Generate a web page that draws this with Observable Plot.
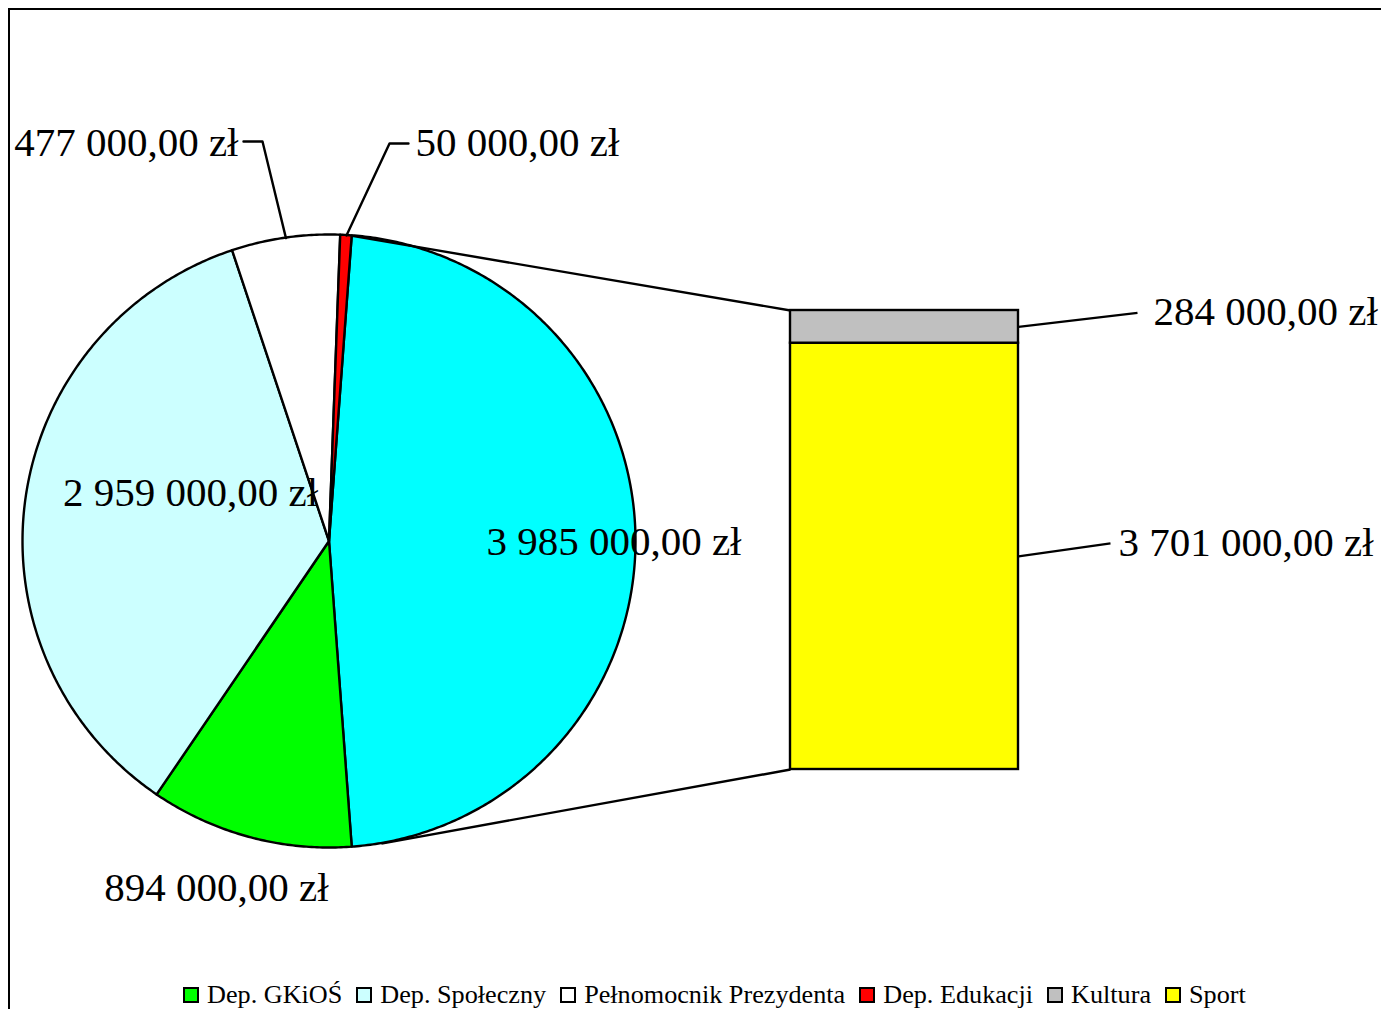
<!DOCTYPE html>
<html><head><meta charset="utf-8">
<script src="https://cdn.jsdelivr.net/npm/d3@7"></script>
<script src="https://cdn.jsdelivr.net/npm/@observablehq/plot@0.6"></script>
<style>
html,body{margin:0;padding:0;background:#fff;}
#wrap{position:relative;width:1381px;height:1009px;overflow:hidden;font-family:"Liberation Serif","Times New Roman",serif;}
#frame{position:absolute;left:8px;top:8px;width:1500px;height:1100px;border:2px solid #000;box-sizing:border-box;}
.layer{position:absolute;left:0;top:0;}
#legend{position:absolute;left:183px;top:982px;display:flex;align-items:center;font-size:26.2px;line-height:26px;white-space:nowrap;}
.item{display:flex;align-items:center;margin-right:14px;}
.sw{width:12px;height:12px;border:2px solid #000;margin-right:8px;}
</style></head>
<body><div id="wrap"><div id="frame"></div></div>
<script>
// ---- data ----
const pieCategories = ["Dep. GKiOŚ", "Dep. Społeczny", "Pełnomocnik Prezydenta", "Dep. Edukacji", "Pozostałe"];
const pieValues = [894000, 2959000, 477000, 50000, 3985000];
const barCategories = ["Sport", "Kultura"];
const barValues = [3701000, 284000];
const legendCategories = ["Dep. GKiOŚ", "Dep. Społeczny", "Pełnomocnik Prezydenta", "Dep. Edukacji", "Kultura", "Sport"];

// ---- styles ----
const colorDomain = ["Dep. GKiOŚ", "Dep. Społeczny", "Pełnomocnik Prezydenta", "Dep. Edukacji", "Pozostałe", "Kultura", "Sport"];
const colorRange = ["#00ff00", "#ccffff", "#ffffff", "#ff0000", "#00ffff", "#c0c0c0", "#ffff00"];
const FONT = "Liberation Serif, Times New Roman, serif";
const W = 1381, H = 975;
const SW = 2.4;

const loc = d3.formatLocale({decimal: ",", thousands: " ", grouping: [3], currency: ["", " zł"]});
const fmt = loc.format("$,.2f");

// ---- pie geometry from values ----
const total = d3.sum(pieValues);
const otherIdx = pieCategories.indexOf("Pozostałe");
const drawOrder = [otherIdx, ...pieCategories.map((_, i) => i).filter(i => i !== otherIdx)];
const otherSpan = pieValues[otherIdx] / total * 360;
let a = 90 - otherSpan / 2;
const slices = [];
for (const i of drawOrder) {
  const span = pieValues[i] / total * 360;
  slices.push({name: pieCategories[i], value: pieValues[i], start: a, end: a + span, mid: a + span / 2});
  a += span;
}
const rad = d => d * Math.PI / 180;
const arcPts = [];
for (const s of slices) {
  const n = Math.max(2, Math.ceil((s.end - s.start) / 0.5) + 1);
  for (let k = 0; k < n; k++) {
    const ang = rad(s.start + (s.end - s.start) * k / (n - 1));
    arcPts.push({name: s.name, x: Math.sin(ang), y: Math.cos(ang)});
  }
}
const sliceOf = name => slices.find(s => s.name === name);

// layout of pie labels (pie units; radius = 1)
const pieLabelLayout = {
  "Pozostałe": {x: 0.928, y: 0.0, anchor: "middle"},
  "Dep. Społeczny": {x: -0.4535, y: 0.158, anchor: "middle"},
  "Dep. GKiOŚ": {x: -0.3687, y: -1.13, anchor: "middle"},
  "Pełnomocnik Prezydenta": {x: -0.2969, y: 1.302, anchor: "end", elbow: [-0.2186, 1.305], end: [-0.2806, 1.305]},
  "Dep. Edukacji": {x: 0.2806, y: 1.299, anchor: "start", elbow: [0.1958, 1.2985], end: [0.2577, 1.2985]}
};
const pieLabels = slices.map(s => ({...pieLabelLayout[s.name], label: fmt(s.value)}));
const leaderPts = [];
for (const s of slices) {
  const L = pieLabelLayout[s.name];
  if (!L.elbow) continue;
  leaderPts.push({name: s.name, x: Math.sin(rad(s.mid)), y: Math.cos(rad(s.mid))});
  leaderPts.push({name: s.name, x: L.elbow[0], y: L.elbow[1]});
  leaderPts.push({name: s.name, x: L.end[0], y: L.end[1]});
}

const pieXOpts = {domain: [-1, 1], range: [22.5, 635.5]};
const pieYOpts = {domain: [-1, 1], range: [847.5, 234.5]};
const pieX = Plot.scale({x: pieXOpts});
const pieY = Plot.scale({y: pieYOpts});

const labelMarks = ["start", "middle", "end"].map(anc =>
  Plot.text(pieLabels.filter(d => d.anchor === anc), {x: "x", y: "y", text: "label", textAnchor: anc,
    fontSize: 41, fontFamily: FONT, fill: "#000"}));

const piePlot = Plot.plot({
  width: W, height: H, margin: 0,
  x: {...pieXOpts, axis: null},
  y: {...pieYOpts, axis: null},
  color: {domain: colorDomain, range: colorRange},
  style: {background: "transparent", fontFamily: FONT},
  marks: [
    Plot.area(arcPts, {x1: d => 0, y1: d => 0, x2: "x", y2: "y", z: "name", fill: "name",
      stroke: "#000", strokeWidth: SW, strokeLinejoin: "round"}),
    Plot.line(leaderPts, {x: "x", y: "y", z: "name", stroke: "#000", strokeWidth: SW}),
    ...labelMarks
  ]
});

// ---- bar ----
const barTotal = d3.sum(barValues);
const cum = d3.cumsum(barValues);
const barRows = barCategories.map((c, i) => ({name: c, value: barValues[i], y1: cum[i] - barValues[i], y2: cum[i], mid: cum[i] - barValues[i] / 2}));
const barXOpts = {domain: [0, 1], range: [790, 1018]};
const barYOpts = {domain: [0, barTotal], range: [769, 310]};
const barX = Plot.scale({x: barXOpts});
const barY = Plot.scale({y: barYOpts});
const yUp = (v, px) => barY.invert(barY.apply(v) - px);

const barLabelLayout = {
  "Kultura": {lineEnd: 1.522, textX: 1.592, up: 14},
  "Sport": {lineEnd: 1.4035, textX: 1.4386, up: 13}
};
const barLabels = barRows.map(r => {
  const L = barLabelLayout[r.name];
  return {x1: 1, y1: r.mid, x2: L.lineEnd, y2: yUp(r.mid, L.up), tx: L.textX, ty: yUp(r.mid, L.up + 0.5), label: fmt(r.value)};
});

// connectors pie -> bar
const other = sliceOf("Pozostałe");
const toBar = ang => ({x: barX.invert(pieX.apply(Math.sin(rad(ang)))), y: barY.invert(pieY.apply(Math.cos(rad(ang))))});
const pTop = toBar(other.start), pBot = toBar(other.end - 5.5);
const connectors = [
  {x1: pTop.x, y1: pTop.y, x2: 0, y2: barTotal},
  {x1: pBot.x, y1: pBot.y, x2: 0, y2: 0}
];

const barPlot = Plot.plot({
  width: W, height: H, margin: 0,
  x: {...barXOpts, axis: null},
  y: {...barYOpts, axis: null},
  color: {domain: colorDomain, range: colorRange},
  style: {background: "transparent", fontFamily: FONT},
  marks: [
    Plot.link(connectors, {x1: "x1", y1: "y1", x2: "x2", y2: "y2", stroke: "#000", strokeWidth: SW}),
    Plot.rect(barRows, {x1: d => 0, x2: d => 1, y1: "y1", y2: "y2", fill: "name", stroke: "#000", strokeWidth: SW}),
    Plot.link(barLabels, {x1: "x1", y1: "y1", x2: "x2", y2: "y2", stroke: "#000", strokeWidth: SW}),
    Plot.text(barLabels, {x: "tx", y: "ty", text: "label", textAnchor: "start", fontSize: 41, fontFamily: FONT, fill: "#000"})
  ]
});

const wrap = document.getElementById("wrap");
piePlot.classList.add("layer");
barPlot.classList.add("layer");
wrap.appendChild(piePlot);
wrap.appendChild(barPlot);

// legend
const colorOf = Object.fromEntries(colorDomain.map((d, i) => [d, colorRange[i]]));
const legend = document.createElement("div");
legend.id = "legend";
for (const c of legendCategories) {
  const it = document.createElement("div");
  it.className = "item";
  const sw = document.createElement("span");
  sw.className = "sw";
  sw.style.background = colorOf[c];
  const tx = document.createElement("span");
  tx.textContent = c;
  it.appendChild(sw); it.appendChild(tx);
  legend.appendChild(it);
}
wrap.appendChild(legend);
</script>
</body></html>
